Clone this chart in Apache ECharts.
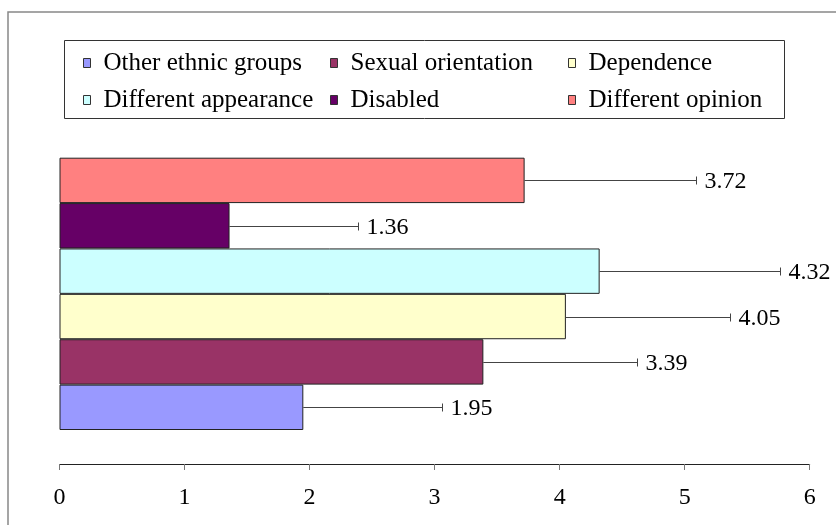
<!DOCTYPE html>
<html>
<head>
<meta charset="utf-8">
<script src="https://cdn.jsdelivr.net/npm/echarts@6/dist/echarts.min.js"></script>
<style>html,body{margin:0;padding:0;background:#fff}#c{width:836px;height:525px}</style>
</head>
<body>
<div id="c"></div>
<script>
const categories = ['Other ethnic groups', 'Sexual orientation', 'Dependence', 'Different appearance', 'Disabled', 'Different opinion'];
const means = [1.95, 3.39, 4.05, 4.32, 1.36, 3.72];
const errors = [1.11, 1.23, 1.31, 1.44, 1.03, 1.37];
const xTicks = [0, 1, 2, 3, 4, 5, 6];

const colors = ['#9999FF', '#993366', '#FFFFCC', '#CCFFFF', '#660066', '#FF8080'];
const FONT = '"Liberation Serif", "Times New Roman", serif';

const chart = echarts.init(document.getElementById('c'));

const barSeries = categories.map((name, i) => ({
  name: name,
  type: 'bar',
  stack: 'all',
  barCategoryGap: 0,
  itemStyle: { color: colors[i], borderColor: '#222', borderWidth: 1 },
  data: categories.map((c, j) => (j === i ? means[i] : '-')),
  animation: false
}));

const errSeries = {
  type: 'custom',
  name: 'err',
  silent: true,
  animation: false,
  data: means.map((m, i) => [m, i, m + errors[i]]),
  encode: { x: [0, 2], y: 1 },
  renderItem: function (params, api) {
    const cat = api.value(1);
    const p1 = api.coord([api.value(0), cat]);
    const p2 = api.coord([api.value(2), cat]);
    const y = Math.round(p1[1]) + 0.5;
    const x2 = Math.round(p2[0]) + 0.5;
    return {
      type: 'group',
      children: [
        { type: 'line', shape: { x1: p1[0], y1: y, x2: x2, y2: y }, style: { stroke: '#444', lineWidth: 1 } },
        { type: 'line', shape: { x1: x2, y1: y - 4, x2: x2, y2: y + 4 }, style: { stroke: '#444', lineWidth: 1 } },
        { type: 'text', x: x2 + 8, y: y + 1, style: { text: means[params.dataIndex].toFixed(2), fill: '#000', font: '24px ' + FONT, textAlign: 'left', textVerticalAlign: 'middle' } }
      ]
    };
  }
};

function legendCol(left, names) {
  return {
    orient: 'vertical',
    left: left,
    top: 50,
    padding: 0,
    itemGap: 11,
    itemWidth: 7,
    itemHeight: 9,
    icon: 'rect',
    selectedMode: false,
    data: names,
    itemStyle: { borderColor: '#333', borderWidth: 1 },
    textStyle: { fontFamily: FONT, fontSize: 25, color: '#000', lineHeight: 26, padding: [0, 0, 0, 8] }
  };
}

chart.setOption({
  backgroundColor: '#fff',
  animation: false,
  textStyle: { fontFamily: FONT },
  graphic: [
    { type: 'rect', shape: { x: 8, y: 12, width: 900, height: 600 }, style: { fill: 'none', stroke: '#888', lineWidth: 1.5 }, silent: true },
    { type: 'rect', shape: { x: 64.5, y: 40.5, width: 720, height: 78 }, style: { fill: 'none', stroke: '#333', lineWidth: 1 }, silent: true }
  ],
  legend: [
    legendCol(83, [categories[0], categories[3]]),
    legendCol(330, [categories[1], categories[4]]),
    legendCol(568, [categories[2], categories[5]])
  ],
  grid: { left: 59.5, right: 26.3, top: 157.7, bottom: 95, containLabel: false },
  xAxis: {
    type: 'value',
    min: xTicks[0],
    max: xTicks[xTicks.length - 1],
    interval: 1,
    position: 'bottom',
    offset: 34,
    axisLine: { show: true, lineStyle: { color: '#222', width: 1 } },
    axisTick: { show: true, inside: false, length: 6, lineStyle: { color: '#777' } },
    axisLabel: { margin: 22, fontFamily: FONT, fontSize: 24, color: '#000' },
    splitLine: { show: false }
  },
  yAxis: {
    type: 'category',
    data: categories,
    show: false
  },
  series: barSeries.concat([errSeries])
});
</script>
</body>
</html>
